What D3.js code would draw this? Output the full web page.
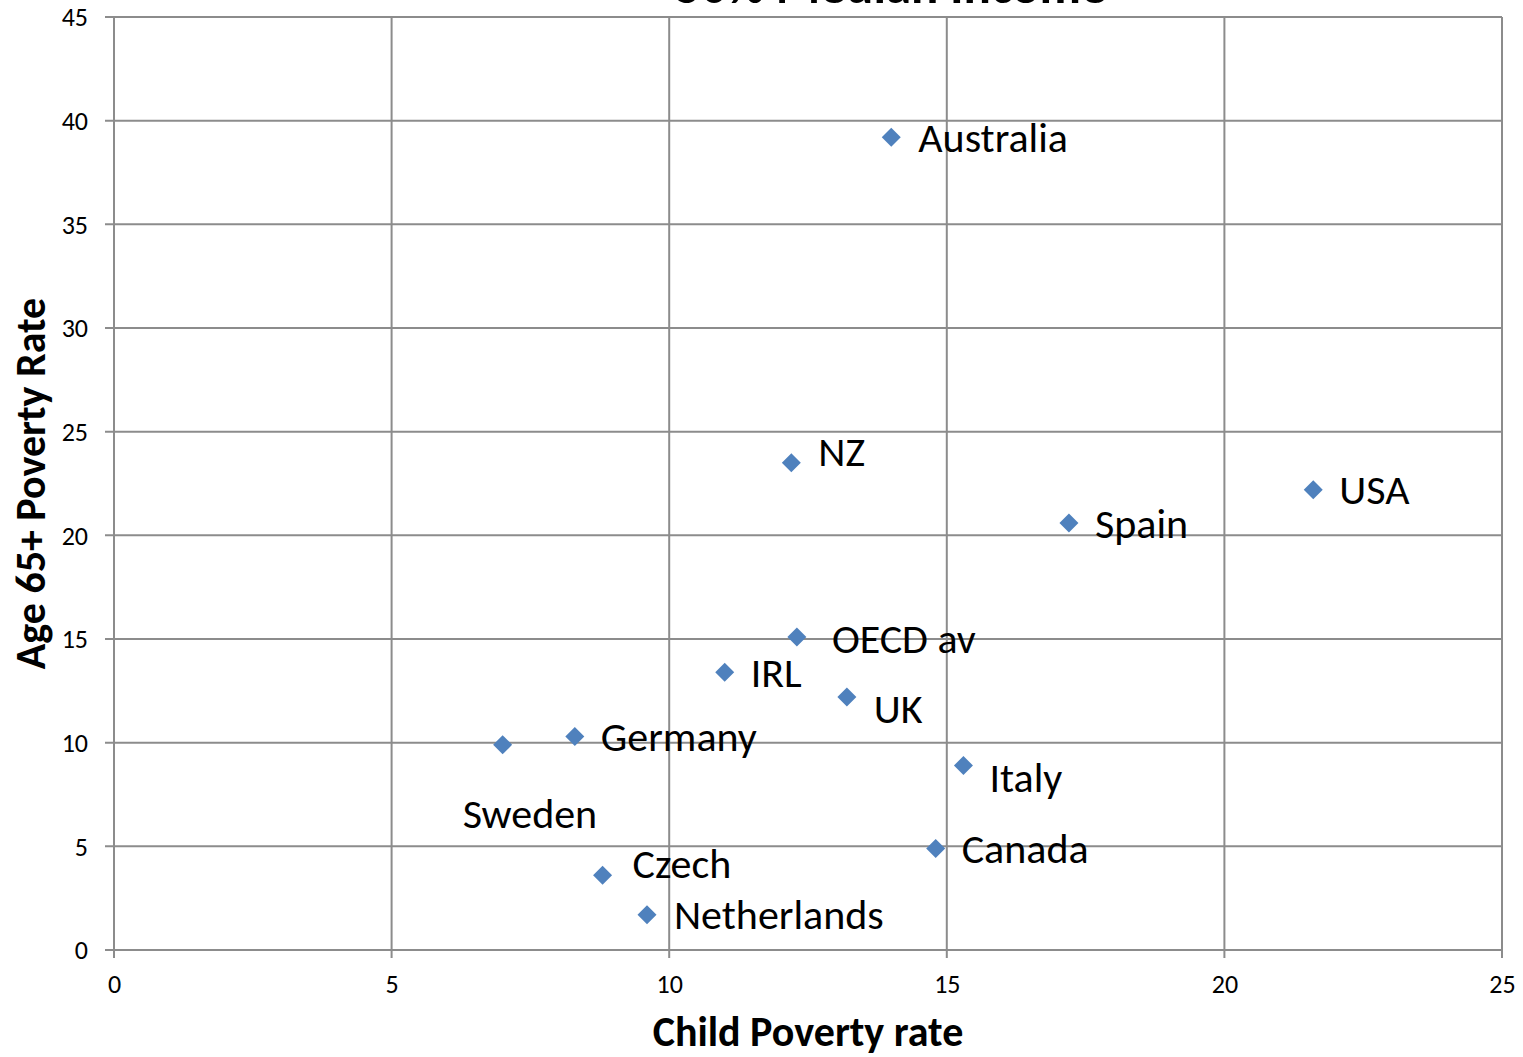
<!DOCTYPE html>
<html>
<head>
<meta charset="utf-8">
<script src="https://cdn.jsdelivr.net/npm/d3@7"></script>
<style>
  body { margin: 0; background: #fff; }
  svg { display: block; font-family: Carlito, Calibri, Lato, "Open Sans", sans-serif; }
</style>
</head>
<body>
<svg id="chart" width="1523" height="1057"></svg>
<script>
// data
const countries = ["Australia", "NZ", "USA", "Spain", "OECD av", "IRL", "UK", "Sweden", "Germany", "Italy", "Canada", "Czech", "Netherlands"];
const childPoverty = [14.0, 12.2, 21.6, 17.2, 12.3, 11.0, 13.2, 7.0, 8.3, 15.3, 14.8, 8.8, 9.6];
const oldPoverty = [39.2, 23.5, 22.2, 20.6, 15.1, 13.4, 12.2, 9.9, 10.3, 8.9, 4.9, 3.6, 1.7];
const xTicks = [0, 5, 10, 15, 20, 25];
const yTicks = [0, 5, 10, 15, 20, 25, 30, 35, 40, 45];

// label placement (manual, like the original data labels)
const labelDx = [27, 27, 26, 26, 35, 26, 27, -40, 26, 26, 26, 30, 27];
const labelDy = [2, -9, 2, 3, 3, 2, 13, 71, 2, 14, 2, -10, 2];

const width = 1523, height = 1057;
const marginLeft = 114, marginRight = 21, marginTop = 17, marginBottom = 107;
const fontStack = "Carlito, Calibri, Lato, 'Open Sans', sans-serif";

const svg = d3.select("#chart");

const x = d3.scaleLinear().domain([0, 25]).range([marginLeft, width - marginRight]);
const y = d3.scaleLinear().domain([0, 45]).range([height - marginBottom, marginTop]);

// gridlines
const grid = svg.append("g").attr("stroke", "#8c8c8c").attr("stroke-width", 2);
grid.selectAll(".hgrid").data(yTicks).enter().append("line")
  .attr("x1", x(0) - 9).attr("x2", x(25))
  .attr("y1", d => y(d)).attr("y2", d => y(d));
grid.selectAll(".vgrid").data(xTicks).enter().append("line")
  .attr("x1", d => x(d)).attr("x2", d => x(d))
  .attr("y1", y(45)).attr("y2", y(0) + 8);

// tick labels via d3 axes, lines hidden
const xAxis = svg.append("g")
  .attr("transform", `translate(0,${y(0)})`)
  .call(d3.axisBottom(x).tickValues(xTicks).tickSize(0).tickPadding(25));
const yAxis = svg.append("g")
  .attr("transform", `translate(${x(0)},0)`)
  .call(d3.axisLeft(y).tickValues(yTicks).tickSize(0).tickPadding(26));
[xAxis, yAxis].forEach(a => {
  a.select(".domain").remove();
  a.selectAll("text")
    .attr("fill", "#000")
    .style("font-size", "26px")
    .style("font-family", fontStack);
});
yAxis.selectAll("text").attr("dy", "0.34em");

// points
const points = svg.append("g");
points.selectAll("path")
  .data(countries)
  .enter()
  .append("path")
    .attr("d", d3.symbol().type(d3.symbolDiamond2).size(230))
    .attr("transform", (d, i) => `translate(${x(childPoverty[i])},${y(oldPoverty[i])})`)
    .attr("fill", "#4f81bd");

// point labels
points.selectAll("text")
  .data(countries)
  .enter()
  .append("text")
    .attr("x", (d, i) => x(childPoverty[i]) + labelDx[i])
    .attr("y", (d, i) => y(oldPoverty[i]) + labelDy[i])
    .attr("dy", "0.3em")
    .attr("font-size", 42)
    .attr("fill", "#000")
    .text(d => d);

// titles
svg.append("text")
  .attr("x", 891).attr("y", 3)
  .attr("text-anchor", "middle")
  .attr("font-size", 51).attr("font-weight", "bold")
  .text("50% Median Income");

svg.append("text")
  .attr("x", 808).attr("y", 1046)
  .attr("text-anchor", "middle")
  .attr("font-size", 42).attr("font-weight", "bold")
  .text("Child Poverty rate");

svg.append("text")
  .attr("transform", `translate(45,${(y(0) + y(45)) / 2}) rotate(-90)`)
  .attr("text-anchor", "middle")
  .attr("font-size", 42).attr("font-weight", "bold")
  .text("Age 65+ Poverty Rate");
</script>
</body>
</html>
